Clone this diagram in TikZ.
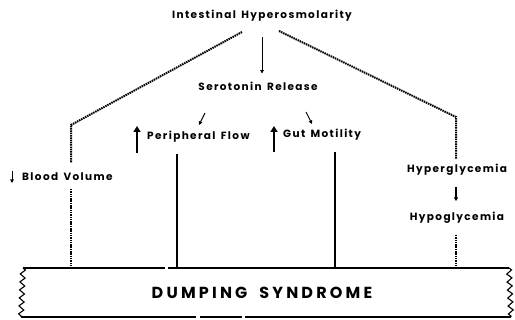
\documentclass[tikz,border=0pt]{standalone}
\usepackage{fontspec}
\setmainfont{Poppins}
\newfontfamily\lblfont[LetterSpace=13, WordSpace=1.5]{Poppins}
\newfontfamily\bandfont[LetterSpace=20, WordSpace=1.8]{Poppins}
\usepackage{tikz}
\usetikzlibrary{arrows.meta, positioning, decorations.pathmorphing}

\tikzset{
  lbl/.style={font=\lblfont\bfseries\fontsize{10.5}{12}\selectfont, inner sep=1pt},
  dotline/.style={line width=2pt, dash pattern=on 1.5pt off 0.8pt},
  bigup/.style={line width=2.6pt, -{Triangle[length=6pt, width=7pt]}},
  thinarr/.style={line width=0.9pt, -{Triangle[length=3.5pt, width=3.5pt]}},
  bar/.style={line width=2.4pt},
  edge/.style={line width=1.1pt},
}

\begin{document}
\begin{tikzpicture}[x=1pt, y=-1pt]
\useasboundingbox (0,0) rectangle (515,320);

% ---- top of the chain ----
\node[lbl] (hyper) at (262,16) {Intestinal Hyperosmolarity};
\node[lbl] (sero) at (258,86) {Serotonin Release};
\draw[thinarr, shorten <=14pt, shorten >=7pt] (hyper.south) -- (hyper.south |- sero.north);

% ---- serotonin effects ----
\node[lbl, anchor=west] (pflow) at (146,137) {Peripheral Flow};
\node[lbl, anchor=west] (gut) at (282,135) {Gut Motility};
\coordinate (pf1) at (205,113);
\coordinate (pf2) at (199,125);
\coordinate (gm1) at (306,112);
\coordinate (gm2) at (312,124);
\draw[thinarr] (pf1) -- (pf2);
\draw[thinarr] (gm1) -- (gm2);
\draw[bigup] (137,153) -- (137,126);
\draw[bigup] (274,152) -- (274,126);

% ---- side branches ----
\node[lbl, anchor=west] (blood) at (21,177) {Blood Volume};
\draw[thinarr] (12,171) -- (12,183);
\node[lbl] (hyperg) at (457,170) {Hyperglycemia};
\node[lbl] (hypog) at (457,218) {Hypoglycemia};
\draw[line width=1.3pt, -{Triangle[length=3.5pt, width=4pt]}] (456,187) -- (456,201);

% ---- dumping syndrome band ----
\coordinate (bandTL) at (23,268);
\coordinate (bandTR) at (509,268);
\coordinate (bandBL) at (21,317);
\coordinate (bandBR) at (511,317);
\draw[edge] (bandTL) -- (165,268) (168,268) -- (bandTR);
\draw[edge] (bandBL) -- (196,317) (200,317) -- (242,317) (245,317) -- (bandBR);
\draw[edge, decorate, decoration={zigzag, segment length=8pt, amplitude=2.5pt}]
  (bandTL) -- (bandBL);
\draw[edge, decorate, decoration={zigzag, segment length=8pt, amplitude=2.5pt}]
  (bandTR) -- (bandBR);
\node[font=\bandfont\bfseries\fontsize{16}{18}\selectfont] (dump) at (262,293) {DUMPING SYNDROME};

% ---- connectors to the band ----
\coordinate (lcorner) at (71,125);
\coordinate (rcorner) at (456,117);
\draw[dotline] (242,32) -- (lcorner) -- (71,163);
\draw[dotline] (71,189) -- (71,268);
\draw[dotline] (279,31) -- (rcorner) -- (456,159);
\draw[dotline] (456,235) -- (456,267);
\draw[bar] (177,154) -- (177,268);
\draw[bar] (335,152) -- (335,268);

\end{tikzpicture}
\end{document}
